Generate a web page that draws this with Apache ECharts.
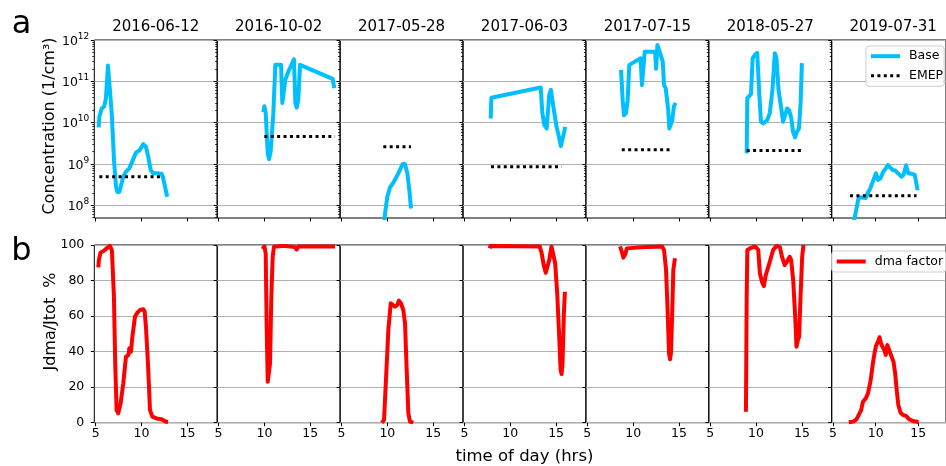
<!DOCTYPE html>
<html>
<head>
<meta charset="utf-8">
<script src="https://cdn.jsdelivr.net/npm/echarts@6/dist/echarts.min.js"></script>
<style>
  html, body { margin: 0; padding: 0; background: #ffffff; }
  #chart { width: 946px; height: 466px; }
</style>
</head>
<body>
<div id="chart"></div>
<script>
// ---- data ----------------------------------------------------------------
const dates = ['2016-06-12', '2016-10-02', '2017-05-28', '2017-06-03',
               '2017-07-15', '2018-05-27', '2019-07-31'];

const hourTicks = [5, 10, 15];
const concTicks = [1e8, 1e9, 1e10, 1e11, 1e12];
const pctTicks = [0, 20, 40, 60, 80, 100];

// Base model concentration, [hour, particles per cm3]
const base0612 = [[5.33, 7.7e9], [5.40, 1.4e10], [5.66, 2.2e10], [5.94, 2.5e10], [6.12, 3.9e10],
  [6.34, 2.4e11], [6.49, 2.3e11], [6.75, 1.7e10], [7.00, 1.2e9], [7.22, 2.8e8], [7.36, 2.1e8],
  [7.58, 2.1e8], [8.01, 4.9e8], [8.30, 6.5e8], [8.67, 7.8e8], [9.03, 1.2e9], [9.40, 1.9e9],
  [9.76, 2.1e9], [10.19, 3.0e9], [10.48, 2.6e9], [10.73, 1.5e9], [11.00, 7.1e8], [11.27, 5.9e8],
  [11.64, 5.9e8], [12.18, 5.8e8], [12.36, 4.5e8], [12.80, 1.6e8]];
const base1002 = [[9.88, 1.8e10], [9.99, 2.5e10], [10.14, 1.7e10], [10.36, 1.8e9], [10.50, 1.3e9],
  [10.68, 2.0e9], [10.97, 1.7e10], [11.19, 2.5e11], [11.81, 2.5e11], [11.95, 3.0e10], [12.13, 2.7e10],
  [12.28, 1.1e11], [12.60, 1.7e11], [13.22, 3.4e11], [13.37, 3.0e10], [13.52, 2.3e10], [13.69, 3.5e10],
  [13.88, 2.5e11], [17.44, 1.15e11], [17.62, 6.8e10]];
const base0528 = [[9.62, 3.0e7], [9.75, 6.3e7], [10.00, 1.6e8], [10.29, 2.7e8], [10.65, 3.5e8],
  [11.20, 5.9e8], [11.68, 1.0e9], [11.93, 1.0e9], [12.18, 5.9e8], [12.40, 2.3e8], [12.58, 8.3e7]];
const base0603 = [[7.87, 1.26e10], [7.94, 4.0e10], [13.32, 7.1e10], [13.50, 1.7e10], [13.72, 8.7e9],
  [13.97, 7.2e9], [14.16, 7.9e9], [14.25, 4.7e10], [14.43, 6.2e10], [14.62, 6.8e10], [14.76, 2.0e10],
  [15.05, 7.9e9], [15.34, 4.2e9], [15.52, 2.7e9], [15.71, 2.9e9], [15.85, 5.5e9], [15.99, 7.9e9]];
const base0715 = [[8.68, 1.9e11], [8.86, 3.5e10], [9.00, 1.5e10], [9.22, 1.7e10], [9.40, 3.5e10],
  [9.58, 2.5e11], [10.82, 3.6e11], [10.96, 8.1e10], [11.08, 8.9e10], [11.26, 5.2e11], [12.40, 5.2e11],
  [12.50, 2.0e11], [12.65, 7.6e11], [12.94, 4.8e11], [13.23, 3.0e11], [13.37, 8.1e10], [13.55, 6.8e10],
  [13.83, 2.0e10], [13.94, 7.2e9], [14.09, 6.8e9], [14.27, 1.15e10], [14.45, 2.5e10], [14.64, 3.0e10]];
const base0527 = [[8.98, 1.8e9], [9.05, 3.9e10], [9.23, 4.3e10], [9.45, 4.9e10], [9.63, 3.6e11],
  [9.88, 4.4e11], [10.13, 4.9e11], [10.35, 5.1e10], [10.54, 1.05e10], [10.79, 9.5e9], [10.97, 8.7e9],
  [11.22, 1.15e10], [11.50, 1.7e10], [11.79, 6.2e10], [12.05, 4.8e11], [12.23, 3.6e11], [12.45, 6.2e10],
  [12.66, 3.0e10], [12.95, 1.05e10], [13.13, 1.15e10], [13.39, 2.2e10], [13.61, 2.0e10], [13.85, 1.26e10],
  [14.03, 6.0e9], [14.25, 4.4e9], [14.46, 6.0e9], [14.68, 7.2e9], [14.86, 3.0e10], [15.00, 2.75e11]];
const base0731 = [[7.45, 4.0e7], [7.75, 8.3e7], [8.01, 1.55e8], [8.22, 1.55e8], [8.84, 1.5e8],
  [9.10, 2.0e8], [9.39, 2.6e8], [9.75, 4.1e8], [10.04, 5.9e8], [10.28, 4.1e8], [10.57, 4.5e8],
  [10.90, 6.5e8], [11.19, 7.8e8], [11.44, 9.3e8], [11.73, 8.1e8], [12.00, 7.1e8], [12.29, 6.9e8],
  [12.66, 5.8e8], [13.02, 4.9e8], [13.27, 5.4e8], [13.57, 9.3e8], [13.83, 5.9e8], [14.18, 5.8e8],
  [14.59, 5.4e8], [14.92, 2.3e8]];

// EMEP reference level for each day and the hours it spans
const emepLevel = [4.9e8, 4.6e9, 2.6e9, 8.5e8, 2.2e9, 2.1e9, 1.7e8];
const emepStart = [5.40, 9.99, 9.56, 7.90, 8.76, 8.98, 7.00];
const emepEnd   = [12.40, 17.70, 12.58, 15.60, 14.20, 14.92, 14.80];

// Share of nucleation from the dma pathway, [hour, %]
const dma0612 = [[5.29, 87.4], [5.35, 91.6], [5.53, 95.7], [5.90, 96.8], [6.19, 98.1], [6.55, 99.5],
  [6.77, 97.0], [6.99, 70.9], [7.13, 33.4], [7.28, 7.1], [7.46, 5.3], [7.72, 10.9], [8.01, 22.2],
  [8.30, 37.1], [8.56, 38.0], [8.67, 41.9], [8.85, 40.0], [9.00, 48.4], [9.18, 49.3], [9.29, 59.7],
  [9.54, 61.9], [9.83, 63.4], [10.19, 63.8], [10.34, 62.5], [10.48, 54.0], [10.70, 33.4], [10.92, 7.1],
  [11.18, 3.4], [11.64, 2.4], [12.18, 1.9], [12.65, 0.6], [12.90, 0.5]];
const dma1002 = [[9.80, 97.7], [9.99, 99.3], [10.14, 95.3], [10.25, 52.2], [10.36, 23.1], [10.50, 22.0],
  [10.61, 33.4], [10.75, 70.9], [10.90, 93.4], [11.04, 99.0], [11.88, 99.4], [12.06, 98.4], [12.25, 99.4],
  [13.33, 98.8], [13.52, 97.5], [13.70, 99.2], [17.70, 99.2]];
const dma0528 = [[9.39, 0.0], [9.64, 1.5], [9.85, 24.0], [10.11, 52.2], [10.37, 67.2], [10.55, 68.0],
  [10.83, 65.3], [11.08, 66.2], [11.26, 68.7], [11.48, 67.2], [11.74, 63.4], [11.93, 55.9], [12.11, 29.7],
  [12.29, 5.3], [12.47, 0.6], [12.84, 0.0]];
const dma0603 = [[7.77, 98.1], [7.85, 99.5], [13.22, 99.1], [13.43, 95.3], [13.65, 88.7], [13.87, 84.4],
  [14.05, 85.0], [14.25, 91.6], [14.50, 99.2], [14.69, 99.2], [14.90, 89.7], [15.12, 72.8], [15.34, 48.4],
  [15.49, 29.7], [15.60, 27.4], [15.70, 33.4], [15.85, 61.6], [15.96, 73.7]];
const dma0715 = [[8.58, 99.2], [8.76, 96.2], [8.94, 92.9], [9.16, 95.0], [9.30, 98.1], [9.48, 99.2],
  [10.93, 98.8], [11.10, 99.2], [13.16, 99.2], [13.37, 97.2], [13.59, 85.9], [13.77, 61.6], [13.91, 39.0],
  [14.03, 35.7], [14.12, 39.0], [14.27, 63.4], [14.38, 85.9], [14.56, 92.5]];
const dma0527 = [[8.90, 6.2], [8.98, 70.9], [9.05, 97.2], [9.34, 98.1], [9.88, 99.2], [10.24, 97.2],
  [10.42, 84.1], [10.64, 79.4], [10.86, 76.9], [11.04, 82.6], [11.50, 90.6], [11.86, 97.2], [12.23, 99.5],
  [12.60, 98.8], [12.83, 93.4], [13.12, 88.7], [13.37, 90.6], [13.67, 93.4], [13.83, 91.6], [14.05, 80.3],
  [14.27, 59.7], [14.41, 42.8], [14.56, 46.5], [14.70, 48.4], [14.85, 70.9], [15.03, 93.4], [15.17, 100.0]];
const dma0731 = [[6.85, 0.2], [7.39, 0.6], [7.75, 1.9], [8.01, 4.3], [8.30, 7.1], [8.51, 11.8],
  [8.84, 13.7], [9.10, 16.5], [9.39, 23.1], [9.68, 33.4], [9.83, 38.0], [10.04, 43.2], [10.28, 45.6],
  [10.46, 48.1], [10.64, 44.6], [10.83, 42.4], [11.01, 40.9], [11.19, 38.1], [11.37, 43.7], [11.55, 42.8],
  [11.73, 39.0], [11.92, 38.1], [12.10, 34.3], [12.29, 27.8], [12.47, 18.4], [12.66, 10.0], [12.92, 5.6],
  [13.22, 4.3], [13.57, 3.8], [13.94, 1.9], [14.48, 0.8], [15.03, 0.4]];

const baseDays = [base0612, base1002, base0528, base0603, base0715, base0527, base0731];
const dmaDays = [dma0612, dma1002, dma0528, dma0603, dma0715, dma0527, dma0731];

// ---- layout & style --------------------------------------------------------
const FONT = '"DejaVu Sans", sans-serif';
const PANEL_LEFT = 94.3, PANEL_W = 122.9;
const TOP_Y = 40, TOP_H = 178;
const BOT_Y = 245, BOT_H = 177.7;
const X_MIN = 4.85, X_MAX = 18.25;
const CONC_MIN = Math.pow(10, 7.69), CONC_MAX = 1e12;
const CYAN = '#00bfff', RED = '#ff0000';
const GRID_GRAY = '#b0b0b0';

// log-style minor tick positions (2..9 x 10^n) inside the concentration range
const concMinor = [];
for (let e = 7; e <= 11; e++) {
  for (let m = 2; m <= 9; m++) {
    const v = m * Math.pow(10, e);
    if (v >= CONC_MIN && v <= CONC_MAX) concMinor.push(v);
  }
}

const grid = [], xAxis = [], yAxis = [], series = [];

for (let k = 0; k < dates.length; k++) {
  const left = PANEL_LEFT + PANEL_W * k;
  const first = k === 0;

  // upper panel: concentration
  const gTop = grid.length;
  grid.push({ left, top: TOP_Y, width: PANEL_W, height: TOP_H, show: true,
              borderColor: '#000', borderWidth: 1, backgroundColor: 'transparent' });
  // lower panel: dma share
  const gBot = grid.length;
  grid.push({ left, top: BOT_Y, width: PANEL_W, height: BOT_H, show: true,
              borderColor: '#000', borderWidth: 1, backgroundColor: 'transparent' });

  const xTop = xAxis.length;
  xAxis.push({
    type: 'value', gridIndex: gTop, min: X_MIN, max: X_MAX,
    axisLine: { show: false },
    axisTick: { show: true, customValues: hourTicks, length: 3.5, lineStyle: { color: '#000' } },
    axisLabel: { show: false },
    splitLine: { show: false }
  });
  const xBot = xAxis.length;
  xAxis.push({
    type: 'value', gridIndex: gBot, min: X_MIN, max: X_MAX,
    axisLine: { show: false },
    axisTick: { show: true, customValues: hourTicks, length: 3.5, lineStyle: { color: '#000' } },
    axisLabel: { show: true, customValues: hourTicks, margin: 5, color: '#000',
                 fontFamily: FONT, fontSize: 12.5 },
    splitLine: { show: false }
  });

  const yTop = yAxis.length;
  yAxis.push({
    type: 'log', logBase: 10, gridIndex: gTop, min: CONC_MIN, max: CONC_MAX, position: 'left',
    axisLine: { show: false },
    axisTick: { show: true, customValues: concTicks, length: 3.5, lineStyle: { color: '#000' } },
    axisLabel: {
      show: first, customValues: concTicks, margin: 5, color: '#000',
      formatter: v => '{b|10}{s|' + Math.round(Math.log10(v)) + '}',
      rich: {
        b: { fontFamily: FONT, fontSize: 12.5, color: '#000', lineHeight: 16, verticalAlign: 'bottom' },
        s: { fontFamily: FONT, fontSize: 9, color: '#000', lineHeight: 16, verticalAlign: 'top', padding: [0, 0, 6, 0] }
      }
    },
    splitLine: { show: true, customValues: concTicks, lineStyle: { color: GRID_GRAY, width: 1 } }
  });
  // minor ticks of the log axis
  yAxis.push({
    type: 'log', logBase: 10, gridIndex: gTop, min: CONC_MIN, max: CONC_MAX, position: 'left',
    axisLine: { show: false },
    axisTick: { show: true, customValues: concMinor, length: 2, lineStyle: { color: '#000', width: 0.8 } },
    axisLabel: { show: false },
    splitLine: { show: false }
  });

  const yBot = yAxis.length;
  yAxis.push({
    type: 'value', gridIndex: gBot, min: 0, max: 100, interval: 20, position: 'left',
    axisLine: { show: false },
    axisTick: { show: true, length: 3.5, lineStyle: { color: '#000' } },
    axisLabel: { show: first, margin: 10, color: '#000', fontFamily: FONT, fontSize: 12.5 },
    splitLine: { show: true, lineStyle: { color: GRID_GRAY, width: 1 } }
  });

  series.push({
    name: 'Base', type: 'line', xAxisIndex: xTop, yAxisIndex: yTop,
    data: baseDays[k], showSymbol: false, symbol: 'none', clip: true,
    lineStyle: { color: CYAN, width: 4, join: 'round' }, itemStyle: { color: CYAN },
    z: 3, animation: false
  });
  series.push({
    name: 'EMEP', type: 'line', xAxisIndex: xTop, yAxisIndex: yTop,
    data: [[emepStart[k], emepLevel[k]], [emepEnd[k], emepLevel[k]]],
    showSymbol: false, symbol: 'none', clip: true,
    lineStyle: { color: '#000', width: 3, type: [3, 3.4] }, itemStyle: { color: '#000' },
    z: 4, animation: false
  });
  series.push({
    name: 'dma factor', type: 'line', xAxisIndex: xBot, yAxisIndex: yBot,
    data: dmaDays[k], showSymbol: false, symbol: 'none', clip: true,
    lineStyle: { color: RED, width: 4, join: 'round' }, itemStyle: { color: RED },
    z: 3, animation: false
  });
}

// ---- texts ---------------------------------------------------------------
const graphic = [];
function addText(text, x, y, size, opts) {
  graphic.push(Object.assign({
    type: 'text', x, y, silent: true,
    style: {
      text, fill: '#000', font: size + 'px ' + FONT,
      align: 'center', verticalAlign: 'middle',
      textAlign: 'center', textVerticalAlign: 'middle'
    }
  }, opts || {}));
}
for (let k = 0; k < dates.length; k++) {
  addText(dates[k], PANEL_LEFT + PANEL_W * (k + 0.5), 27, 15);
}
addText('a', 21.5, 25, 32);
addText('b', 21.5, 252, 32);
addText('Concentration (1/cm³)', 49.5, 126, 16, { rotation: Math.PI / 2 });
addText('Jdma/Jtot  %', 51, 321.5, 16, { rotation: Math.PI / 2 });
addText('time of day (hrs)', PANEL_LEFT + PANEL_W * 3.5, 457, 16.5);

const legendCommon = {
  orient: 'vertical', itemWidth: 29, itemHeight: 14, itemGap: 6.6,
  backgroundColor: 'rgba(255,255,255,0.8)', borderColor: '#cccccc', borderWidth: 1,
  borderRadius: 3, selectedMode: false,
  itemStyle: { opacity: 0 },
  lineStyle: { opacity: 1 },
  textStyle: { fontFamily: FONT, fontSize: 12.5, color: '#000', padding: [0, 0, 0, 4] }
};

const option = {
  animation: false,
  backgroundColor: '#ffffff',
  grid, xAxis, yAxis, series, graphic,
  legend: [
    Object.assign({}, legendCommon, {
      data: [{ name: 'Base', lineStyle: { width: 4 } }, { name: 'EMEP', lineStyle: { width: 3 } }],
      left: 866, top: 46, padding: [3.7, 1, 4, 3]
    }),
    Object.assign({}, legendCommon, {
      data: [{ name: 'dma factor', lineStyle: { width: 4 } }],
      left: 831.7, top: 251, padding: [4, 3, 4, 3]
    })
  ]
};

const chart = echarts.init(document.getElementById('chart'), null, { renderer: 'canvas' });
chart.setOption(option);
</script>
</body>
</html>
